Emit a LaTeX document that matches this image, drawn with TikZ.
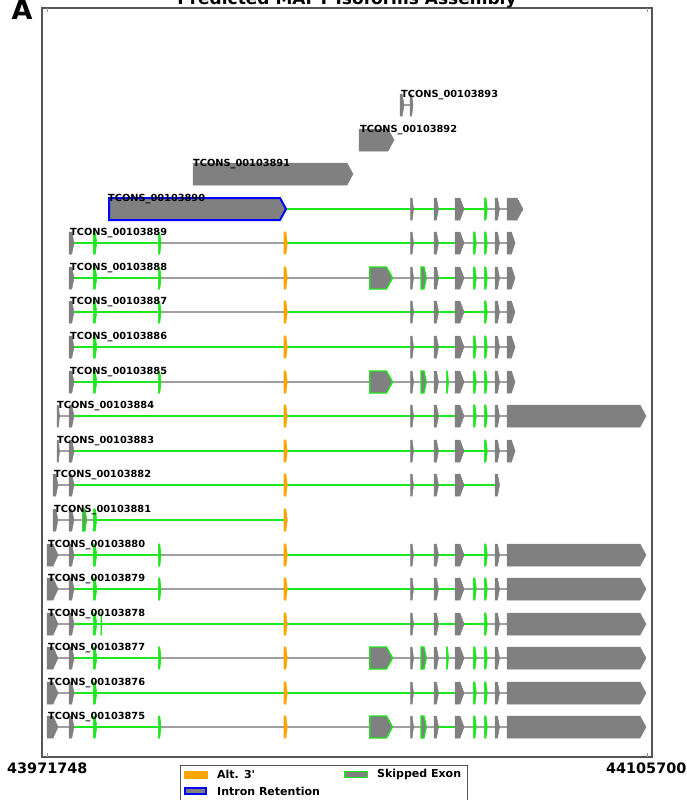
\documentclass[tikz,border=0pt]{standalone}
\usepackage{fontspec}
\setmainfont{DejaVu Sans}
\definecolor{exgray}{HTML}{808080}
\definecolor{ingray}{HTML}{A0A0A0}
\definecolor{exgreen}{HTML}{1EE61E}
\definecolor{exorange}{HTML}{FFA500}
\definecolor{axgray}{HTML}{555555}
\tikzset{
 gx/.style={fill=exgray,draw=exgray,line width=0.5pt},
 gr/.style={fill=exgray,draw=exgreen,line width=1.4pt},
 grs/.style={fill=exgreen,draw=exgreen,line width=0.6pt},
 orx/.style={fill=exorange,draw=exorange,line width=0.6pt},
 irx/.style={fill=exgray,draw=blue,line width=2pt},
 gline/.style={draw=ingray,line width=2pt},
 grline/.style={draw=exgreen,line width=2pt},
 lbl/.style={anchor=base west,inner sep=0pt,font=\fontsize{9.8}{10}\selectfont\bfseries},
 leg/.style={anchor=west,inner sep=0pt,font=\fontsize{11}{12}\selectfont\bfseries},
}
\newcommand\ex[3][gx]{\pgfmathsetmacro\tp{min(6,0.45*(#3-#2))}\path[#1] (#2,\Y-11) -- (#3-\tp,\Y-11) -- (#3,\Y) -- (#3-\tp,\Y+11) -- (#2,\Y+11) -- cycle;}
\newcommand\gl[2]{\path[gline] (#1,\Y) -- (#2,\Y);}
\newcommand\grl[2]{\path[grline] (#1,\Y) -- (#2,\Y);}
\newcommand\lab[2]{\node[lbl] (t#2) at (#1,\Y-8) {TCONS\_00103#2};}
\newcommand\zA{\ex{47}{58}}
\newcommand\zB{\ex{57}{59.5}}
\newcommand\zC{\ex{53}{58}}
\newcommand\zD{\ex{69}{74}}
\newcommand\zE{\ex[gr]{82.7}{86.5}}
\newcommand\zF{\ex[grs]{93.3}{96.8}}
\newcommand\zG{\ex[grs]{100.8}{102}}
\newcommand\zH{\ex[grs]{158.3}{161}}
\newcommand\zO{\ex[orx]{284}{287.3}}
\newcommand\zS{\ex[gr]{369.7}{392.5}}
\newcommand\zI{\ex{410.5}{413.5}}
\newcommand\zJ{\ex[gr]{421}{426.3}}
\newcommand\zK{\ex{434}{438.5}}
\newcommand\zL{\ex[grs]{446.3}{448.5}}
\newcommand\zM{\ex{455}{464}}
\newcommand\zN{\ex[grs]{473.3}{476.3}}
\newcommand\zP{\ex[grs]{484.3}{487.3}}
\newcommand\zQ{\ex{495}{499.5}}
\newcommand\zR{\ex{507}{515}}
\newcommand\zT{\ex{507}{646}}
\begin{document}
\begin{tikzpicture}[x=1pt,y=-1pt]
\useasboundingbox (0,0) rectangle (686,800);
\clip (0,0) rectangle (686,800);
\fill[white] (0,0) rectangle (686,800);
% frame
\draw[axgray,line width=1.5pt] (42,8) rectangle (652,757);
\draw[axgray!60,line width=0.7pt] (47,8) -- (47,12) (647,8) -- (647,12) (47,757) -- (47,753) (647,757) -- (647,753);
\node[anchor=base,inner sep=0pt,font=\fontsize{17}{17}\selectfont\bfseries] (title) at (347,4.5) {Predicted MAPT Isoforms Assembly};
\node[anchor=base west,inner sep=0pt,font=\fontsize{27}{27}\selectfont\bfseries] (panel) at (11.5,20) {A};
% 3893
\def\Y{105}
\gl{404}{410} \ex{400}{404} \ex{410}{413} \lab{401}{893}
% 3892
\def\Y{140}
\ex{359}{394} \lab{360}{892}
% 3891
\def\Y{174}
\ex{193}{353} \lab{193}{891}
% 3890
\def\Y{209}
\gl{287}{507} \grl{287}{484}
\ex[irx]{109}{286} \zI \zK \zM \zP \zQ \ex{507}{523} \lab{108}{890}
% 3889
\def\Y{243}
\gl{74}{507} \grl{74}{158} \grl{287}{455}
\zD \zF \zH \zO \zI \zK \zM \zN \zP \zQ \zR \lab{70}{889}
% 3888
\def\Y{278}
\gl{74}{507} \grl{74}{158} \grl{438}{455}
\zD \zF \zH \zO \zS \zI \zJ \zK \zM \zN \zP \zQ \zR \lab{70}{888}
% 3887
\def\Y{312}
\gl{74}{507} \grl{74}{158} \grl{287}{484}
\zD \zF \zH \zO \zI \zK \zM \zP \zQ \zR \lab{70}{887}
% 3886
\def\Y{347}
\gl{74}{507} \grl{74}{284} \grl{287}{455}
\zD \zF \zO \zI \zK \zM \zN \zP \zQ \zR \lab{70}{886}
% 3885
\def\Y{382}
\gl{74}{507} \grl{74}{158}
\zD \zF \zH \zO \zS \zI \zJ \zK \zL \zM \zN \zP \zQ \zR \lab{70}{885}
% 3884
\def\Y{416}
\gl{59}{507} \grl{74}{284} \grl{287}{455}
\zB \zD \zO \zI \zK \zM \zN \zP \zQ \zT \lab{57}{884}
% 3883
\def\Y{451}
\gl{59}{507} \grl{74}{284} \grl{287}{484}
\zB \zD \zO \zI \zK \zM \zP \zQ \zR \lab{57}{883}
% 3882
\def\Y{485}
\gl{58}{495} \grl{74}{284} \grl{287}{495}
\zC \zD \zO \zI \zK \zM \zQ \lab{54}{882}
% 3881
\def\Y{520}
\gl{58}{284} \grl{97}{284}
\zC \zD \zE \zF \zO \lab{54}{881}
% 3880
\def\Y{555}
\gl{58}{507} \grl{74}{158} \grl{287}{484}
\zA \zD \zF \zH \zO \zI \zK \zM \zP \zQ \zT \lab{48}{880}
% 3879
\def\Y{589}
\gl{58}{507} \grl{74}{158} \grl{287}{455}
\zA \zD \zF \zH \zO \zI \zK \zM \zN \zP \zQ \zT \lab{48}{879}
% 3878
\def\Y{624}
\gl{58}{507} \grl{74}{284} \grl{287}{484}
\zA \zD \zF \zG \zO \zI \zK \zM \zP \zQ \zT \lab{48}{878}
% 3877
\def\Y{658}
\gl{58}{507} \grl{74}{158}
\zA \zD \zF \zH \zO \zS \zI \zJ \zK \zL \zM \zN \zP \zQ \zT \lab{48}{877}
% 3876
\def\Y{693}
\gl{58}{507} \grl{74}{284} \grl{287}{455}
\zA \zD \zF \zO \zI \zK \zM \zN \zP \zQ \zT \lab{48}{876}
% 3875
\def\Y{727}
\gl{58}{507} \grl{74}{158} \grl{438}{455}
\zA \zD \zF \zH \zO \zS \zI \zJ \zK \zM \zN \zP \zQ \zT \lab{48}{875}
% axis numbers
\node[anchor=base west,inner sep=0pt,font=\fontsize{14.4}{15}\selectfont\bfseries] (xmin) at (7,773) {43971748};
\node[anchor=base east,inner sep=0pt,font=\fontsize{14.4}{15}\selectfont\bfseries] (xmax) at (686.5,773) {44105700};
% legend
\draw[axgray,line width=1pt,fill=white] (180,765) rectangle (467,806);
\path[orx] (184,771) rectangle (207,778);
\node[leg] (l1) at (217,774.5) {Alt. 3\textquotesingle};
\path[gr] (345,771.7) rectangle (367.5,777.5);
\node[leg] (l2) at (377,774.5) {Skipped Exon};
\path[irx] (185,788) rectangle (206,794);
\node[leg] (l3) at (217,791) {Intron Retention};
\end{tikzpicture}
\end{document}
